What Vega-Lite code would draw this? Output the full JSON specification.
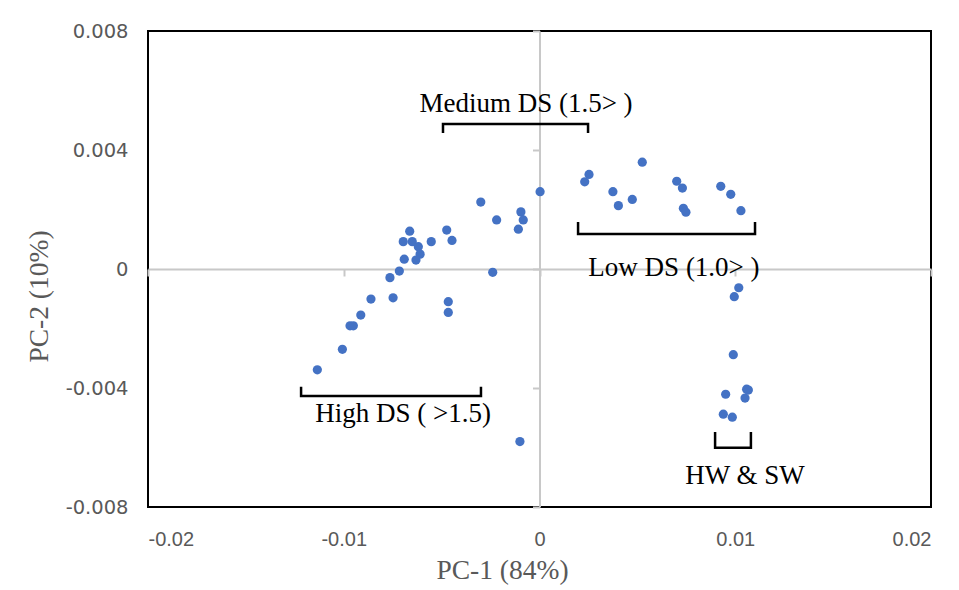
{
  "$schema": "https://vega.github.io/schema/vega-lite/v6.json",
  "width": 783,
  "height": 476,
  "autosize": {"type": "none"},
  "padding": {"left": 148, "top": 31, "right": 28, "bottom": 83},
  "background": "white",
  "config": {
    "view": {"stroke": "black", "strokeWidth": 2},
    "axis": {"grid": false}
  },
  "datasets": {
    "points": [
      {"pc1": 0.00003, "pc2": 0.0026},
      {"pc1": -0.0030, "pc2": 0.00225},
      {"pc1": -0.00095, "pc2": 0.00192},
      {"pc1": -0.00083, "pc2": 0.00165},
      {"pc1": -0.00108, "pc2": 0.00134},
      {"pc1": -0.00219, "pc2": 0.00165},
      {"pc1": -0.00474, "pc2": 0.00131},
      {"pc1": -0.00447, "pc2": 0.00096},
      {"pc1": -0.00553, "pc2": 0.00092},
      {"pc1": -0.00663, "pc2": 0.00127},
      {"pc1": -0.00696, "pc2": 0.00092},
      {"pc1": -0.0065, "pc2": 0.00092},
      {"pc1": -0.00619, "pc2": 0.00075},
      {"pc1": -0.0061, "pc2": 0.0005},
      {"pc1": -0.00631, "pc2": 0.0003},
      {"pc1": -0.00691, "pc2": 0.00033},
      {"pc1": -0.00716, "pc2": -0.00007},
      {"pc1": -0.00764, "pc2": -0.00029},
      {"pc1": -0.00239, "pc2": -0.00011},
      {"pc1": -0.00861, "pc2": -0.00101},
      {"pc1": -0.00748, "pc2": -0.00097},
      {"pc1": -0.00466, "pc2": -0.0011},
      {"pc1": -0.00466, "pc2": -0.00146},
      {"pc1": -0.00913, "pc2": -0.00155},
      {"pc1": -0.00968, "pc2": -0.00191},
      {"pc1": -0.00951, "pc2": -0.00191},
      {"pc1": -0.01135, "pc2": -0.00339},
      {"pc1": -0.01007, "pc2": -0.0027},
      {"pc1": -0.001, "pc2": -0.0058},
      {"pc1": 0.00253, "pc2": 0.00318},
      {"pc1": 0.00231, "pc2": 0.00293},
      {"pc1": 0.00525, "pc2": 0.00359},
      {"pc1": 0.00375, "pc2": 0.0026},
      {"pc1": 0.00403, "pc2": 0.00213},
      {"pc1": 0.00474, "pc2": 0.00234},
      {"pc1": 0.00701, "pc2": 0.00295},
      {"pc1": 0.0073, "pc2": 0.00272},
      {"pc1": 0.00735, "pc2": 0.00204},
      {"pc1": 0.00748, "pc2": 0.00191},
      {"pc1": 0.00926, "pc2": 0.00278},
      {"pc1": 0.00977, "pc2": 0.00251},
      {"pc1": 0.01029, "pc2": 0.00196},
      {"pc1": 0.01018, "pc2": -0.00063},
      {"pc1": 0.00995, "pc2": -0.00093},
      {"pc1": 0.0099, "pc2": -0.00288},
      {"pc1": 0.00951, "pc2": -0.00421},
      {"pc1": 0.01058, "pc2": -0.00404},
      {"pc1": 0.0105, "pc2": -0.00434},
      {"pc1": 0.01067, "pc2": -0.00407},
      {"pc1": 0.00939, "pc2": -0.00488},
      {"pc1": 0.00985, "pc2": -0.00498}
    ],
    "brackets": [
      {"group": "Medium", "ord": 1, "pc1": -0.00493, "pc2": 0.00457},
      {"group": "Medium", "ord": 2, "pc1": -0.00493, "pc2": 0.00487},
      {"group": "Medium", "ord": 3, "pc1": 0.00248, "pc2": 0.00487},
      {"group": "Medium", "ord": 4, "pc1": 0.00248, "pc2": 0.00457},
      {"group": "High", "ord": 1, "pc1": -0.01218, "pc2": -0.00396},
      {"group": "High", "ord": 2, "pc1": -0.01218, "pc2": -0.00427},
      {"group": "High", "ord": 3, "pc1": -0.00299, "pc2": -0.00427},
      {"group": "High", "ord": 4, "pc1": -0.00299, "pc2": -0.00396},
      {"group": "Low", "ord": 1, "pc1": 0.00197, "pc2": 0.00158},
      {"group": "Low", "ord": 2, "pc1": 0.00197, "pc2": 0.00118},
      {"group": "Low", "ord": 3, "pc1": 0.01101, "pc2": 0.00118},
      {"group": "Low", "ord": 4, "pc1": 0.01101, "pc2": 0.00158},
      {"group": "HW", "ord": 1, "pc1": 0.00897, "pc2": -0.00548},
      {"group": "HW", "ord": 2, "pc1": 0.00897, "pc2": -0.00601},
      {"group": "HW", "ord": 3, "pc1": 0.0108, "pc2": -0.00601},
      {"group": "HW", "ord": 4, "pc1": 0.0108, "pc2": -0.00548}
    ],
    "labels": [
      {"label": "Medium DS (1.5> )", "pc1": -0.00069, "pc2": 0.00554},
      {"label": "High DS ( >1.5)", "pc1": -0.00697, "pc2": -0.00487},
      {"label": "Low DS (1.0> )", "pc1": 0.00687, "pc2": 0.00003},
      {"label": "HW & SW", "pc1": 0.0105, "pc2": -0.00696}
    ]
  },
  "resolve": {"axis": {"x": "independent", "y": "independent"}},
  "layer": [
    {
      "data": {"name": "points"},
      "mark": {"type": "circle", "size": 85, "color": "#4472C4", "opacity": 1},
      "encoding": {
        "x": {
          "field": "pc1", "type": "quantitative",
          "scale": {"domain": [-0.02, 0.02], "nice": false, "zero": false},
          "axis": {
            "orient": "bottom", "values": [-0.02, -0.01, 0, 0.01, 0.02],
            "labelExpr": "toString(datum.value)",
            "domain": false, "ticks": false, "labelPadding": 22,
            "labelFont": "Liberation Sans", "labelFontSize": 20, "labelColor": "#595959",
            "title": "PC-1 (84%)", "titleFont": "Liberation Serif", "titleFontSize": 27.5,
            "titleFontWeight": "normal", "titleColor": "#595959", "titlePadding": 7,
            "titleX": 354, "titleAlign": "center"
          }
        },
        "y": {
          "field": "pc2", "type": "quantitative",
          "scale": {"domain": [-0.008, 0.008], "nice": false, "zero": false},
          "axis": {
            "orient": "left", "values": [-0.008, -0.004, 0, 0.004, 0.008],
            "labelExpr": "toString(datum.value)",
            "domain": false, "ticks": false, "labelPadding": 20,
            "labelFont": "DejaVu Sans", "labelFontSize": 19.5, "labelColor": "#595959",
            "title": "PC-2 (10%)", "titleFont": "Liberation Serif", "titleFontSize": 27.5,
            "titleFontWeight": "normal", "titleColor": "#595959", "titlePadding": 12,
            "titleY": 265
          }
        }
      }
    },
    {
      "data": {"name": "brackets"},
      "mark": {"type": "line", "color": "black", "strokeWidth": 2.5},
      "encoding": {
        "x": {
          "field": "pc1", "type": "quantitative",
          "axis": {
            "orient": "bottom", "offset": -238, "values": [-0.02, -0.01, 0, 0.01, 0.02],
            "labels": false, "title": null, "domainColor": "#C8C8C8", "domainWidth": 2,
            "tickColor": "#C8C8C8", "tickWidth": 2, "tickSize": 7
          }
        },
        "y": {
          "field": "pc2", "type": "quantitative",
          "axis": {
            "orient": "left", "offset": -391.5, "values": [-0.008, -0.004, 0, 0.004, 0.008],
            "labels": false, "title": null, "domainColor": "#C8C8C8", "domainWidth": 2,
            "tickColor": "#C8C8C8", "tickWidth": 2, "tickSize": 7
          }
        },
        "detail": {"field": "group"},
        "order": {"field": "ord", "type": "quantitative"}
      }
    },
    {
      "data": {"name": "labels"},
      "mark": {"type": "text", "font": "Liberation Serif", "fontSize": 27, "color": "black", "align": "center", "baseline": "middle"},
      "encoding": {
        "x": {"field": "pc1", "type": "quantitative", "axis": null},
        "y": {"field": "pc2", "type": "quantitative", "axis": null},
        "text": {"field": "label"}
      }
    }
  ]
}
